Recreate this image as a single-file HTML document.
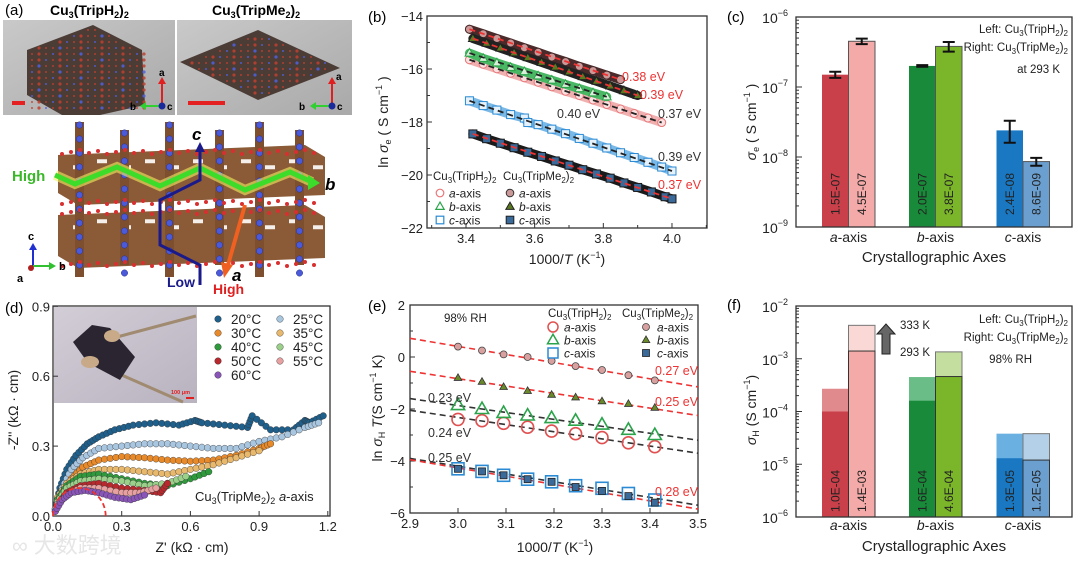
<!DOCTYPE html>
<html><head><meta charset="utf-8"><style>
html,body{margin:0;padding:0;background:#fff;}
svg{display:block;font-family:"Liberation Sans","Noto Sans CJK SC",sans-serif;}
</style></head><body>
<svg id="fig" width="1080" height="562" viewBox="0 0 1080 562" xmlns="http://www.w3.org/2000/svg">
<defs>
<linearGradient id="photoG" x1="0" y1="0" x2="1" y2="1"><stop offset="0" stop-color="#c9c9c9"/><stop offset="1" stop-color="#a9a9a9"/></linearGradient>
<linearGradient id="insetG" x1="0" y1="0" x2="1" y2="1"><stop offset="0" stop-color="#d2cdd6"/><stop offset="1" stop-color="#b9b3c0"/></linearGradient>
</defs>

<!-- Panel (a) -->
<g>
<text x="5" y="15" font-size="15">(a)</text>
<text x="50" y="15" font-size="14" font-weight="bold">Cu<tspan font-size="9" dy="3">3</tspan><tspan dy="-3">(TripH</tspan><tspan font-size="9" dy="3">2</tspan><tspan dy="-3">)</tspan><tspan font-size="9" dy="3">2</tspan></text>
<text x="212" y="15" font-size="14" font-weight="bold">Cu<tspan font-size="9" dy="3">3</tspan><tspan dy="-3">(TripMe</tspan><tspan font-size="9" dy="3">2</tspan><tspan dy="-3">)</tspan><tspan font-size="9" dy="3">2</tspan></text>
<rect x="3" y="20" width="172" height="95" fill="url(#photoG)"/>
<rect x="177" y="20" width="175" height="95" fill="url(#photoG)"/>
<polygon points="27,50 93,25 142,50 145,105 100,115 62,115 27,95" fill="#4b3c36"/>
<polygon points="180,62 258,30 340,68 258,100" fill="#4b3c36"/>
<g id="crystalDots"></g>
<rect x="12" y="101" width="13" height="4" fill="#e52020"/>
<rect x="188" y="101" width="37" height="4" fill="#e52020"/>
<g>
<line x1="162" y1="106" x2="162" y2="82" stroke="#e02020" stroke-width="2"/><polygon points="158,84 166,84 162,77" fill="#e02020"/>
<text x="159" y="76" font-size="10" font-weight="bold">a</text>
<line x1="160" y1="106" x2="145" y2="106" stroke="#30d030" stroke-width="2"/><polygon points="146,102 146,110 140,106" fill="#30d030"/>
<text x="130" y="110" font-size="10" font-weight="bold">b</text>
<circle cx="162" cy="106" r="3.5" fill="#1a2a9a"/><text x="167" y="110" font-size="10" font-weight="bold">c</text>
</g>
<g>
<line x1="332" y1="106" x2="332" y2="82" stroke="#e02020" stroke-width="2"/><polygon points="328,84 336,84 332,77" fill="#e02020"/>
<text x="336" y="80" font-size="10" font-weight="bold">a</text>
<line x1="330" y1="106" x2="315" y2="106" stroke="#30d030" stroke-width="2"/><polygon points="316,102 316,110 310,106" fill="#30d030"/>
<text x="299" y="110" font-size="10" font-weight="bold">b</text>
<circle cx="332" cy="106" r="3.5" fill="#1a2a9a"/><text x="337" y="110" font-size="10" font-weight="bold">c</text>
</g>
<g id="lattice"></g>
<polyline points="55,175 75,184 117,167 160,186 200,168 245,190 290,172 312,182" fill="none" stroke="#f4f060" stroke-width="10" opacity="0.6"/>
<polyline points="55,175 75,184 117,167 160,186 200,168 245,190 290,172 312,182" fill="none" stroke="#3ddc2a" stroke-width="5"/>
<polygon points="308,175 320,183 308,190" fill="#3ddc2a"/>
<text x="12" y="181" font-size="15" font-weight="bold" fill="#3ab82a">High</text>
<text x="325" y="190" font-size="17" font-weight="bold" font-style="italic">b</text>
<polyline points="200,285 200,265 160,245 160,200 200,180 200,150" fill="none" stroke="#1a1a8a" stroke-width="3"/>
<polygon points="195,152 205,152 200,142" fill="#1a1a8a"/>
<text x="192" y="140" font-size="17" font-weight="bold" font-style="italic">c</text>
<line x1="245" y1="205" x2="228" y2="265" stroke="#f06020" stroke-width="4"/>
<polygon points="221,262 233,265 224,278" fill="#f06020"/>
<text x="232" y="281" font-size="17" font-weight="bold" font-style="italic">a</text>
<text x="167" y="287" font-size="14" font-weight="bold" fill="#1a1a8a">Low</text>
<text x="213" y="294" font-size="14" font-weight="bold" fill="#e02020">High</text>
<g>
<line x1="33" y1="266" x2="33" y2="248" stroke="#2030d0" stroke-width="2"/><polygon points="29,250 37,250 33,243" fill="#2030d0"/>
<text x="28" y="240" font-size="11" font-weight="bold">c</text>
<line x1="33" y1="266" x2="50" y2="266" stroke="#30c030" stroke-width="2"/><polygon points="49,262 49,270 56,266" fill="#30c030"/>
<text x="59" y="270" font-size="11" font-weight="bold">b</text>
<circle cx="31" cy="268" r="3" fill="#b02020"/><text x="17" y="282" font-size="11" font-weight="bold">a</text>
</g>
</g>

<g id="pb">
<text x="368" y="22" font-size="15">(b)</text>
</g>
<g id="pc">
<text x="727" y="22" font-size="15">(c)</text>
</g>
<g id="pd">
<text x="5" y="313" font-size="15">(d)</text>
</g>
<g id="pe">
<text x="368" y="311" font-size="15">(e)</text>
</g>
<g id="pf">
<text x="727" y="310" font-size="15">(f)</text>
</g>
</svg>
<script>
// ===== Panel (b) data =====
const bMe2aX=[3.41,3.45,3.49,3.53,3.57,3.61,3.65,3.69,3.73,3.77,3.81,3.85];
const bMe2aY=[-14.5,-14.67,-14.85,-15.02,-15.2,-15.37,-15.55,-15.72,-15.9,-16.06,-16.23,-16.4];
const bMe2bX=[3.42,3.46,3.50,3.54,3.58,3.62,3.66,3.70,3.74,3.78,3.82,3.86,3.90];
const bMe2bY=[-14.85,-15.03,-15.21,-15.39,-15.57,-15.75,-15.93,-16.11,-16.29,-16.46,-16.64,-16.82,-17.0];
const bH2aX=[3.41,3.45,3.49,3.53,3.57,3.61,3.65,3.69,3.73,3.77,3.81,3.85,3.89,3.93,3.97];
const bH2aY=[-15.65,-15.82,-15.99,-16.16,-16.33,-16.5,-16.67,-16.84,-17.0,-17.17,-17.34,-17.51,-17.68,-17.85,-18.02];
const bH2bX=[3.41,3.45,3.49,3.53,3.57,3.61,3.65,3.69,3.73,3.77,3.81];
const bH2bY=[-15.4,-15.6,-15.77,-15.94,-16.1,-16.26,-16.42,-16.58,-16.74,-16.9,-17.05];
const bH2cX=[3.41,3.45,3.49,3.53,3.57,3.58,3.61,3.65,3.69,3.73,3.77,3.81,3.85,3.89,3.93,3.97,4.0];
const bH2cY=[-17.2,-17.38,-17.55,-17.72,-17.85,-18.02,-18.1,-18.27,-18.44,-18.62,-18.8,-18.98,-19.16,-19.34,-19.52,-19.7,-19.85];
const bMe2cX=[3.42,3.46,3.50,3.54,3.58,3.62,3.66,3.70,3.74,3.78,3.82,3.86,3.90,3.94,3.98,4.0];
const bMe2cY=[-18.45,-18.63,-18.8,-18.97,-19.14,-19.3,-19.47,-19.63,-19.8,-19.96,-20.12,-20.3,-20.47,-20.64,-20.82,-20.9];
const bXTicks=[3.4,3.6,3.8,4.0];
const bXTickLabels=["3.4","3.6","3.8","4.0"];
const bYTicks=[-14,-16,-18,-20,-22];
const bYTickLabels=["-14","-16","-18","-20","-22"];
// ===== Panel (c) data =====
const cCategories=["a","b","c"];
const cLeft=[1.5e-7,2.0e-7,2.4e-8];
const cRight=[4.5e-7,3.8e-7,8.6e-9];
const cLeftErrLo=[1.35e-7,1.95e-7,1.6e-8];
const cLeftErrHi=[1.65e-7,2.05e-7,3.3e-8];
const cRightErrLo=[4.1e-7,3.2e-7,7.5e-9];
const cRightErrHi=[4.9e-7,4.4e-7,9.7e-9];
const cLeftLabels=["1.5E-07","2.0E-07","2.4E-08"];
const cRightLabels=["4.5E-07","3.8E-07","8.6E-09"];
const cDecades=[-6,-7,-8,-9];
// ===== Panel (d) data =====
const dTemps=["20°C","25°C","30°C","35°C","40°C","45°C","50°C","55°C","60°C"];
const dZre=[
[0.01,0.03,0.06,0.1,0.15,0.2,0.27,0.35,0.45,0.55,0.62,0.65,0.75,0.85,0.87,0.95,1.05,1.1,1.12,1.18],
[0.01,0.04,0.08,0.13,0.2,0.3,0.4,0.5,0.6,0.7,0.8,0.9,1.0,1.1,1.16],
[0.01,0.04,0.08,0.13,0.2,0.3,0.4,0.5,0.6,0.7,0.8,0.9,0.95],
[0.02,0.06,0.12,0.2,0.3,0.4,0.5,0.6,0.7,0.8,0.9],
[0.02,0.06,0.12,0.2,0.3,0.4,0.5,0.6,0.68],
[0.02,0.06,0.12,0.2,0.3,0.4,0.5,0.58],
[0.02,0.06,0.12,0.2,0.3,0.4,0.47,0.5],
[0.02,0.06,0.12,0.2,0.3,0.38,0.45],
[0.01,0.04,0.08,0.14,0.2,0.27,0.34,0.4]];
const dZim=[
[0.03,0.12,0.2,0.26,0.31,0.34,0.37,0.39,0.4,0.39,0.41,0.4,0.39,0.38,0.43,0.37,0.37,0.41,0.4,0.43],
[0.03,0.12,0.2,0.25,0.29,0.3,0.31,0.31,0.3,0.29,0.29,0.32,0.34,0.38,0.4],
[0.02,0.1,0.16,0.21,0.24,0.255,0.25,0.24,0.235,0.24,0.26,0.29,0.31],
[0.08,0.14,0.18,0.2,0.2,0.19,0.18,0.2,0.22,0.25,0.28],
[0.07,0.13,0.17,0.18,0.16,0.14,0.13,0.16,0.19],
[0.06,0.12,0.15,0.16,0.15,0.13,0.14,0.17],
[0.05,0.1,0.13,0.14,0.12,0.11,0.1,0.14],
[0.05,0.09,0.12,0.12,0.1,0.1,0.12],
[0.02,0.07,0.1,0.11,0.1,0.08,0.07,0.09]];
const dXTicks=[0,0.3,0.6,0.9,1.2];
const dXTickLabels=["0.0","0.3","0.6","0.9","1.2"];
const dYTicks=[0,0.3,0.6,0.9];
const dYTickLabels=["0.0","0.3","0.6","0.9"];
// ===== Panel (e) data =====
const eX=[3.0,3.05,3.095,3.145,3.195,3.245,3.3,3.355,3.41];
const eMe2a=[0.4,0.25,0.1,0.0,-0.15,-0.35,-0.5,-0.7,-0.9];
const eMe2b=[-0.8,-0.95,-1.15,-1.3,-1.45,-1.55,-1.7,-1.8,-1.95];
const eH2b=[-1.85,-2.0,-2.15,-2.25,-2.35,-2.45,-2.6,-2.8,-3.0];
const eH2a=[-2.4,-2.45,-2.55,-2.7,-2.85,-2.95,-3.1,-3.3,-3.45];
const eH2c=[-4.3,-4.4,-4.55,-4.7,-4.8,-4.95,-5.05,-5.25,-5.5];
const eMe2c=[-4.3,-4.4,-4.55,-4.7,-4.8,-5.0,-5.15,-5.35,-5.6];
const eFitStart=[0.72,-0.55,-1.6,-2.05,-3.9,-3.95];
const eFitEnd=[-1.15,-2.25,-3.2,-3.7,-5.7,-5.85];
const eXTicks=[2.9,3.0,3.1,3.2,3.3,3.4,3.5];
const eXTickLabels=["2.9","3.0","3.1","3.2","3.3","3.4","3.5"];
const eYTicks=[2,0,-2,-4,-6];
const eYTickLabels=["2","0","-2","-4","-6"];
// ===== Panel (f) data =====
const fLeft293=[1.0e-4,1.6e-4,1.3e-5];
const fRight293=[1.4e-3,4.6e-4,1.2e-5];
const fLeft333=[2.7e-4,4.5e-4,3.8e-5];
const fRight333=[4.3e-3,1.35e-3,3.8e-5];
const fLeftLabels=["1.0E-04","1.6E-04","1.3E-05"];
const fRightLabels=["1.4E-03","4.6E-04","1.2E-05"];
const fDecades=[-2,-3,-4,-5,-6];

const NS="http://www.w3.org/2000/svg";
function el(tag,attrs,parent){const e=document.createElementNS(NS,tag);for(const k in attrs)e.setAttribute(k,attrs[k]);parent.appendChild(e);return e;}

// ---- panel a decorative atoms ----
(function(){
const g=document.getElementById('crystalDots');
for(let x=32;x<145;x+=7)for(let y=30;y<112;y+=6){
 const inside=(y>50-(x-27)*0.38+2)&&(y>25+(x-93)*0.5+2||x<93)&&(y<114);
 if(!inside)continue;
 const d=el('circle',{cx:x,cy:y,r:((x+y)%3===0)?1.6:1,fill:((x/7+y/6)%4<1)?'#5060e0':'#c04030',opacity:0.85},g);
 
 
}
for(let x=185;x<338;x+=7)for(let y=33;y<100;y+=6){
 const dx=Math.abs(x-259)/80,dy=Math.abs(y-65)/34;
 if(dx+dy>0.95)continue;
 const d=el('circle',{cx:x,cy:y,r:((x+y)%3===0)?1.6:1,fill:((x/7+y/6)%4<1)?'#5060e0':'#c04030',opacity:0.85},g);
 
 
}
const L=document.getElementById('lattice');
const slabs=[[58,145,325,205],[58,205,325,268]];
slabs.forEach(s=>{
 const p=el('polygon',{points:`${s[0]},${s[1]+10} ${s[2]-20},${s[1]} ${s[2]},${s[1]+12} ${s[2]},${s[3]-10} ${s[0]+20},${s[3]} ${s[0]},${s[3]-12}`,fill:'#8b5a36'},L);
 
 
 for(let x=s[0]+15;x<s[2]-10;x+=24){
  const h=el('rect',{x:x,y:s[1]+14+((x/24)%2)*6,width:10,height:4,fill:'#fff',opacity:0.9},L);
  
  
 }
});
[75,120,165,215,255,295].forEach((x,i)=>{
 const c=el('rect',{x:x,y:122+(i%2)*8,width:9,height:155-(i%2)*20,fill:'#7d4f2e'},L);
 
 
 for(let y=125+(i%2)*8;y<275;y+=14){
  const a=el('circle',{cx:x+4.5,cy:y,r:3.2,fill:'#4a5ad8',stroke:'#2a3090','stroke-width':0.5},L);
  
  
 }
});
for(let x=62;x<322;x+=9)for(let y of [150,200,210,262]){
 const o=el('circle',{cx:x,cy:y+((x*7)%5),r:2,fill:(x%18===0)?'#4a5ad8':'#d83030'},L);
 
 
}
})();

function marker(g,shape,x,y,s,fill,stroke,sw){
 let m;
 if(shape==='circle')m=el('circle',{cx:x,cy:y,r:s,fill:fill,stroke:stroke,'stroke-width':sw},g);
 else if(shape==='tri')m=el('polygon',{points:`${x},${y-s*1.15} ${x-s*1.1},${y+s*0.75} ${x+s*1.1},${y+s*0.75}`,fill:fill,stroke:stroke,'stroke-width':sw},g);
 else m=el('rect',{x:x-s,y:y-s,width:2*s,height:2*s,fill:fill,stroke:stroke,'stroke-width':sw},g);
 return m;
}
function frame(g,x0,y0,x1,y1){
 const f=el('rect',{x:x0,y:y0,width:x1-x0,height:y1-y0,fill:'none',stroke:'#333','stroke-width':1.3},g);
 
 
}
function txt(g,x,y,s,size,anchor,extra){
 const t=el('text',Object.assign({x:x,y:y,'font-size':size,'text-anchor':anchor||'start',fill:'#222'},extra||{}),g);
 t.innerHTML=s;return t;
}

// ================= Panel (b) =================
(function(){
const g=document.getElementById('pb');
const X0=427,X1=707,Y0=16,Y1=228;
const xb=v=>466+(v-3.4)*343.3, yb=v=>Y0+(-14-v)*26.5;
frame(g,X0,Y0,X1,Y1);
bXTicks.forEach((v,i)=>{
 const t=el('line',{x1:xb(v),y1:Y1,x2:xb(v),y2:Y1-5,stroke:'#333'},g);
 
 
 const l=txt(g,xb(v),Y1+15,bXTickLabels[i],13,'middle');
 
 
});
[3.3,3.5,3.7,3.9,4.1].forEach(v=>{const t=el('line',{x1:xb(v),y1:Y1,x2:xb(v),y2:Y1-3,stroke:'#333'},g);});
bYTicks.forEach((v,i)=>{
 const t=el('line',{x1:X0,y1:yb(v),x2:X0+5,y2:yb(v),stroke:'#333'},g);
 
 
 const l=txt(g,X0-4,yb(v)+5,bYTickLabels[i].replace('-','−'),13,'end');
 
 
});
[-15,-17,-19,-21].forEach(v=>{const t=el('line',{x1:X0,y1:yb(v),x2:X0+3,y2:yb(v),stroke:'#333'},g);});
const series=[
 [bH2aX,bH2aY,'circle','#fbe0e0','#e8777a','#f0b0b0','#222'],
 [bH2bX,bH2bY,'tri','#d8f0d8','#2aa34a','#49b764','#222'],
 [bMe2aX,bMe2aY,'circle','#c99','#4a2a2a','#4a2a2a','#e33'],
 [bMe2bX,bMe2bY,'tri','#5a7a20','#222','#222','#e33'],
 [bH2cX,bH2cY,'square','#e6f2fb','#2a8ad4','#7ab8e6','#222'],
 [bMe2cX,bMe2cY,'square','#3a6a9a','#1a1a1a','#1a1a1a','#e33']];
const names=['h2-a-axis','h2-b-axis','me2-a-axis','me2-b-axis','h2-c-axis','me2-c-axis'];
series.forEach((s,si)=>{
 const sg=el('g',{},g);
 
 
 const pts=s[0].map((x,i)=>xb(x)+','+yb(s[1][i])).join(' ');
 const band=el('polyline',{points:pts,fill:'none',stroke:s[5],'stroke-width':9,'stroke-linecap':'round'},sg);
 
 
 s[0].forEach((x,i)=>{
  const m=marker(sg,s[2],xb(x),yb(s[1][i]),4,s[3],s[4],1);
  
  
 });
 const n=s[0].length-1;
 const fit=el('line',{x1:xb(s[0][0]),y1:yb(s[1][0]),x2:xb(s[0][n]),y2:yb(s[1][n]),stroke:s[6],'stroke-width':1.8,'stroke-dasharray':'6,4'},sg);
 
 
});
const ev=[[622,81,'0.38 eV','#e33'],[640,99,'0.39 eV','#e33'],[557,118,'0.40 eV','#333'],[658,118,'0.37 eV','#333'],[658,161,'0.39 eV','#333'],[658,189,'0.37 eV','#e33']];
ev.forEach(e=>{const t=txt(g,e[0],e[1],e[2],12.5,'start',{fill:e[3]});});
const h1=txt(g,433,180,'Cu<tspan font-size="8" dy="3">3</tspan><tspan dy="-3">(TripH</tspan><tspan font-size="8" dy="3">2</tspan><tspan dy="-3">)</tspan><tspan font-size="8" dy="3">2</tspan>',11.5);


const h2=txt(g,503,180,'Cu<tspan font-size="8" dy="3">3</tspan><tspan dy="-3">(TripMe</tspan><tspan font-size="8" dy="3">2</tspan><tspan dy="-3">)</tspan><tspan font-size="8" dy="3">2</tspan>',11.5);


const lab=['a','b','c'];
[['circle','#fff','#e8777a'],['tri','#fff','#2aa34a'],['square','#fff','#2a8ad4']].forEach((m,i)=>{
 const y=193+i*13.5;
 const a=marker(g,m[0],440,y,3.8,m[1],m[2],1.2);
 const t=txt(g,449,y+4.5,'<tspan font-style="italic">'+lab[i]+'</tspan>-axis',12);
});
[['circle','#c99','#333'],['tri','#5a7a20','#222'],['square','#3a6a9a','#222']].forEach((m,i)=>{
 const y=193+i*13.5;
 const a=marker(g,m[0],510,y,3.8,m[1],m[2],1);
 const t=txt(g,519,y+4.5,'<tspan font-style="italic">'+lab[i]+'</tspan>-axis',12);
});
const xt=txt(g,567,264,'1000/<tspan font-style="italic">T</tspan> (K<tspan font-size="9" dy="-6">−1</tspan><tspan dy="6">)</tspan>',14,'middle');


const yt=txt(g,0,0,'ln <tspan font-style="italic">σ</tspan><tspan font-size="9" dy="3">e</tspan><tspan dy="-3"> ( S cm</tspan><tspan font-size="9" dy="-6">−1</tspan><tspan dy="6"> )</tspan>',14,'middle',{transform:'translate(388,122) rotate(-90)'});


})();

const barColL=['#c9404a','#19893a','#1a78c2'];
const barColR=['#f4aaa8','#7ab52a','#6a9fd0'];
const barColL2=['#e08a8e','#6abd86','#6ab0e0'];
const barColR2=['#fad8d6','#c4dea0','#b4cfe8'];
const groupCenter=[848.5,935.5,1023];
const barW=26.5;
function logAxis(g,X0,X1,Y0,Y1,decades,ypos){
 frame(g,X0,Y0,X1,Y1);
 decades.forEach(d=>{
  const t=el('line',{x1:X0,y1:ypos(Math.pow(10,d)),x2:X0+6,y2:ypos(Math.pow(10,d)),stroke:'#333'},g);
  
  
  const l=txt(g,X0-8,ypos(Math.pow(10,d))+6,'10<tspan font-size="9" dy="-7">−'+(-d)+'</tspan>',14,'end');
  
  
  if(d!==decades[decades.length-1])for(let k=2;k<10;k++){
   const m=el('line',{x1:X0,y1:ypos(k*Math.pow(10,d-1)),x2:X0+3,y2:ypos(k*Math.pow(10,d-1)),stroke:'#333'},g);
   
   
  }
 });
}
function catLabels(g,y){
 cCategories.forEach((c,i)=>{
  const t=txt(g,groupCenter[i],y,'<tspan font-style="italic">'+c+'</tspan>-axis',14,'middle');
  
  
 });
}
function vlabel(g,x,y,s){
 const t=txt(g,0,0,s,12,'middle',{transform:`translate(${x+4},${y}) rotate(-90)`});
 
 
}
// ---- Panel (c) ----
(function(){
const g=document.getElementById('pc');
const X0=796,X1=1072,Y0=17,Y1=227;
const yc=v=>Y0+(-6-Math.log10(v))*70;
cCategories.forEach((c,i)=>{
 const bl=el('rect',{x:groupCenter[i]-barW,y:yc(cLeft[i]),width:barW,height:Y1-yc(cLeft[i]),fill:barColL[i]},g);
 
 
 const br=el('rect',{x:groupCenter[i],y:yc(cRight[i]),width:barW,height:Y1-yc(cRight[i]),fill:barColR[i],stroke:'#555','stroke-width':1},g);
 
 
 [[groupCenter[i]-barW/2,cLeftErrLo[i],cLeftErrHi[i]],[groupCenter[i]+barW/2,cRightErrLo[i],cRightErrHi[i]]].forEach(e=>{
  const eb=el('path',{d:`M${e[0]},${yc(e[1])}V${yc(e[2])}M${e[0]-6},${yc(e[1])}h12M${e[0]-6},${yc(e[2])}h12`,stroke:'#111','stroke-width':2,fill:'none'},g);
  
  
 });
 vlabel(g,groupCenter[i]-barW/2,194,cLeftLabels[i]);
 vlabel(g,groupCenter[i]+barW/2,194,cRightLabels[i]);
});
logAxis(g,X0,X1,Y0,Y1,cDecades,yc);
catLabels(g,242);
const xt=txt(g,934,262,'Crystallographic Axes',15,'middle');


const yt=txt(g,0,0,'<tspan font-style="italic">σ</tspan><tspan font-size="9" dy="3">e</tspan><tspan dy="-3"> ( S cm</tspan><tspan font-size="9" dy="-6">−1</tspan><tspan dy="6"> )</tspan>',14,'middle',{transform:'translate(756,122) rotate(-90)'});


const n1=txt(g,1068,33,'Left: Cu<tspan font-size="8" dy="3">3</tspan><tspan dy="-3">(TripH</tspan><tspan font-size="8" dy="3">2</tspan><tspan dy="-3">)</tspan><tspan font-size="8" dy="3">2</tspan>',11.5,'end');


const n2=txt(g,1068,51,'Right: Cu<tspan font-size="8" dy="3">3</tspan><tspan dy="-3">(TripMe</tspan><tspan font-size="8" dy="3">2</tspan><tspan dy="-3">)</tspan><tspan font-size="8" dy="3">2</tspan>',11.5,'end');


const n3=txt(g,1060,73,'at 293 K',11.5,'end');


})();
// ---- Panel (f) ----
(function(){
const g=document.getElementById('pf');
const X0=796,X1=1072,Y0=306,Y1=517;
const yf=v=>Y0+(-2-Math.log10(v))*52.75;
cCategories.forEach((c,i)=>{
 const l2=el('rect',{x:groupCenter[i]-barW,y:yf(fLeft333[i]),width:barW,height:Y1-yf(fLeft333[i]),fill:barColL2[i]},g);
 
 
 const bl=el('rect',{x:groupCenter[i]-barW,y:yf(fLeft293[i]),width:barW,height:Y1-yf(fLeft293[i]),fill:barColL[i]},g);
 
 
 const r2=el('rect',{x:groupCenter[i],y:yf(fRight333[i]),width:barW,height:Y1-yf(fRight333[i]),fill:barColR2[i],stroke:'#777','stroke-width':1},g);
 
 
 const br=el('rect',{x:groupCenter[i],y:yf(fRight293[i]),width:barW,height:Y1-yf(fRight293[i]),fill:barColR[i],stroke:'#333','stroke-width':1},g);
 
 
 vlabel(g,groupCenter[i]-barW/2,491,fLeftLabels[i]);
 vlabel(g,groupCenter[i]+barW/2,491,fRightLabels[i]);
});
logAxis(g,X0,X1,Y0,Y1,fDecades,yf);
catLabels(g,530);
const xt=txt(g,934,551,'Crystallographic Axes',15,'middle');


const yt=txt(g,0,0,'<tspan font-style="italic">σ</tspan><tspan font-size="9" dy="3">H</tspan><tspan dy="-3"> (S cm</tspan><tspan font-size="9" dy="-6">−1</tspan><tspan dy="6">)</tspan>',14,'middle',{transform:'translate(756,410) rotate(-90)'});


const ar=el('polygon',{points:'882,354 882,334 877,334 886,324 895,334 890,334 890,354',fill:'#666',stroke:'#222','stroke-width':1},g);


const t1=txt(g,900,329,'333 K',11.5);
const t2=txt(g,900,356,'293 K',11.5);
const n1=txt(g,1068,323,'Left: Cu<tspan font-size="8" dy="3">3</tspan><tspan dy="-3">(TripH</tspan><tspan font-size="8" dy="3">2</tspan><tspan dy="-3">)</tspan><tspan font-size="8" dy="3">2</tspan>',11.5,'end');


const n2=txt(g,1068,341,'Right: Cu<tspan font-size="8" dy="3">3</tspan><tspan dy="-3">(TripMe</tspan><tspan font-size="8" dy="3">2</tspan><tspan dy="-3">)</tspan><tspan font-size="8" dy="3">2</tspan>',11.5,'end');


const n3=txt(g,1032,363,'98% RH',11.5,'end');


})();

// ================= Panel (e) =================
(function(){
const g=document.getElementById('pe');
const X0=410,X1=698,Y0=305,Y1=513;
const xe=v=>X0+(v-2.9)*480, ye=v=>Y0+(2-v)*26;
frame(g,X0,Y0,X1,Y1);
eXTicks.forEach((v,i)=>{
 const t=el('line',{x1:xe(v),y1:Y1,x2:xe(v),y2:Y1-5,stroke:'#333'},g);
 
 
 const l=txt(g,xe(v),Y1+15,eXTickLabels[i],13,'middle');
 
 
});
eYTicks.forEach((v,i)=>{
 const t=el('line',{x1:X0,y1:ye(v),x2:X0+5,y2:ye(v),stroke:'#333'},g);
 
 
 const l=txt(g,X0-5,ye(v)+5,eYTickLabels[i].replace('-','−'),13,'end');
 
 
});
[1,-1,-3,-5].forEach(v=>{const t=el('line',{x1:X0,y1:ye(v),x2:X0+3,y2:ye(v),stroke:'#333'},g);});
const fitCol=['#e33','#e33','#333','#333','#333','#e33'];
eFitStart.forEach((s,i)=>{
 const f=el('line',{x1:xe(2.9),y1:ye(s),x2:xe(3.5),y2:ye(eFitEnd[i]),stroke:fitCol[i],'stroke-width':1.6,'stroke-dasharray':'6,4'},g);
 
 
});
const ser=[[eH2a,'circle','none','#e05050',6,1.6,'h2-a-axis'],[eH2b,'tri','none','#2aa34a',6,1.6,'h2-b-axis'],[eH2c,'square','none','#2a8ad4',6,1.6,'h2-c-axis'],
[eMe2a,'circle','#d9a0a0','#444',3.5,0.8,'me2-a-axis'],[eMe2b,'tri','#6a8a2a','#333',3.5,0.8,'me2-b-axis'],[eMe2c,'square','#3a6a9a','#222',3.5,0.8,'me2-c-axis']];
ser.forEach(s=>{
 const sg=el('g',{},g);
 
 
 eX.forEach((x,i)=>{
  const m=marker(sg,s[1],xe(x),ye(s[0][i]),s[4],s[2],s[3],s[5]);
  
  
 });
});
const ev=[[655,375,'0.27 eV','#e33'],[655,406,'0.25 eV','#e33'],[428,402,'0.23 eV','#333'],[428,437,'0.24 eV','#333'],[428,462,'0.25 eV','#333'],[655,496,'0.28 eV','#e33']];
ev.forEach(e=>{const t=txt(g,e[0],e[1],e[2],12.5,'start',{fill:e[3]});});
const rh=txt(g,444,322,'98% RH',11.5);
const h1=txt(g,548,317,'Cu<tspan font-size="8" dy="3">3</tspan><tspan dy="-3">(TripH</tspan><tspan font-size="8" dy="3">2</tspan><tspan dy="-3">)</tspan><tspan font-size="8" dy="3">2</tspan>',11.5);


const h2=txt(g,622,317,'Cu<tspan font-size="8" dy="3">3</tspan><tspan dy="-3">(TripMe</tspan><tspan font-size="8" dy="3">2</tspan><tspan dy="-3">)</tspan><tspan font-size="8" dy="3">2</tspan>',11.5);


const lab=['a','b','c'];
[['circle','#fff','#e05050'],['tri','#fff','#2aa34a'],['square','#fff','#2a8ad4']].forEach((m,i)=>{
 const y=327+i*13;
 const a=marker(g,m[0],553,y,5,m[1],m[2],1.5);
 const t=txt(g,564,y+4.5,'<tspan font-style="italic">'+lab[i]+'</tspan>-axis',12);
});
[['circle','#d9a0a0','#444'],['tri','#6a8a2a','#333'],['square','#3a6a9a','#222']].forEach((m,i)=>{
 const y=327+i*13;
 const a=marker(g,m[0],646,y,3.5,m[1],m[2],0.8);
 const t=txt(g,657,y+4.5,'<tspan font-style="italic">'+lab[i]+'</tspan>-axis',12);
});
const xt=txt(g,555,552,'1000/<tspan font-style="italic">T</tspan> (K<tspan font-size="9" dy="-6">−1</tspan><tspan dy="6">)</tspan>',14,'middle');


const yt=txt(g,0,0,'ln <tspan font-style="italic">σ</tspan><tspan font-size="9" dy="3">H</tspan><tspan dy="-3"> </tspan><tspan font-style="italic">T</tspan>(S cm<tspan font-size="9" dy="-6">−1</tspan><tspan dy="6"> K)</tspan>',14,'middle',{transform:'translate(382,408) rotate(-90)'});


})();

// ================= Panel (d) =================
(function(){
const g=document.getElementById('pd');
const X0=53,X1=330,Y0=306,Y1=516;
const xd=v=>X0+v*229, yd=v=>Y1-v*233;
const inset=el('rect',{x:54,y:307,width:143,height:96,fill:'url(#insetG)'},g);


const w1=el('path',{d:'M117,337 L196,316',stroke:'#a08a70','stroke-width':3,fill:'none'},g);
const w2=el('path',{d:'M92,362 L183,402',stroke:'#a08a70','stroke-width':3,fill:'none'},g);
const hex=el('polygon',{points:'73,342 92,325 110,328 135,357 120,380 88,363',fill:'#2a2530'},g);


const b1=el('ellipse',{cx:112,cy:336,rx:8,ry:6,fill:'#c8aa88'},g);
const b2=el('ellipse',{cx:90,cy:362,rx:9,ry:6,fill:'#c8aa88'},g);
const sb=el('rect',{x:186,y:397,width:8,height:2,fill:'#e02020'},g);
const st=txt(g,171,394,'100 μm',5.5,'start',{fill:'#e02020','font-weight':'bold'});
frame(g,X0,Y0,X1,Y1);
dXTicks.forEach((v,i)=>{
 const t=el('line',{x1:xd(v),y1:Y1,x2:xd(v),y2:Y1-5,stroke:'#333'},g);
 
 
 const l=txt(g,xd(v),Y1+15,dXTickLabels[i],13,'middle');
 
 
});
dYTicks.forEach((v,i)=>{
 const t=el('line',{x1:X0,y1:yd(v),x2:X0+5,y2:yd(v),stroke:'#333'},g);
 
 
 const l=txt(g,X0-3,yd(v)+5,dYTickLabels[i],13,'end');
 
 
});
const cols=['#1f5f8b','#a9c6e0','#e88a2a','#e8b86c','#2f9a3c','#9bd08a','#b8282c','#e8a0a0','#8a55b8'];
dTemps.forEach((tname,si)=>{
 const sg=el('g',{},g);
 
 
 const xs=dZre[si],ys=dZim[si];
 xs.forEach((x,i)=>{
  const m=el('circle',{cx:xd(x),cy:yd(ys[i]),r:3.3,fill:cols[si],stroke:'#333','stroke-width':0.4},sg);
  
  
  if(i<xs.length-1){
   [0.25,0.5,0.75].forEach(f=>{
    const mx=x+(xs[i+1]-x)*f,my=ys[i]+(ys[i+1]-ys[i])*f;
    const m2=el('circle',{cx:xd(mx),cy:yd(my),r:3.3,fill:cols[si],stroke:'#333','stroke-width':0.4},sg);
    
    
   });
  }
 });
 const col=si%2===0?0:1, row=Math.floor(si/2);
 const lx=col===0?218:280, ly=319+row*14;
 const lm=el('circle',{cx:lx,cy:ly,r:3.3,fill:cols[si],stroke:'#333','stroke-width':0.4},g);
 
 
 const lt=txt(g,lx+13,ly+5,tname,13.5);
 
 
});
const arc=el('path',{d:`M${xd(0)},${yd(0)} A${xd(0.115)-xd(0)},${yd(0)-yd(0.12)} 0 0 1 ${xd(0.23)},${yd(0)}`,stroke:'#e33','stroke-width':1.8,fill:'none','stroke-dasharray':'5,3'},g);


const note=txt(g,195,501,'Cu<tspan font-size="9" dy="3">3</tspan><tspan dy="-3">(TripMe</tspan><tspan font-size="9" dy="3">2</tspan><tspan dy="-3">)</tspan><tspan font-size="9" dy="3">2</tspan><tspan dy="-3"> </tspan><tspan font-style="italic">a</tspan>-axis',13);


const xt=txt(g,192,552,"Z' (kΩ · cm)",14,'middle');


const yt=txt(g,0,0,"-Z'' (kΩ · cm)",14,'middle',{transform:'translate(18,410) rotate(-90)'});


const wm=txt(g,12,553,'∞ 大数跨境',22,'start',{fill:'#e6e6e6'});


})();
</script>
</body></html>
